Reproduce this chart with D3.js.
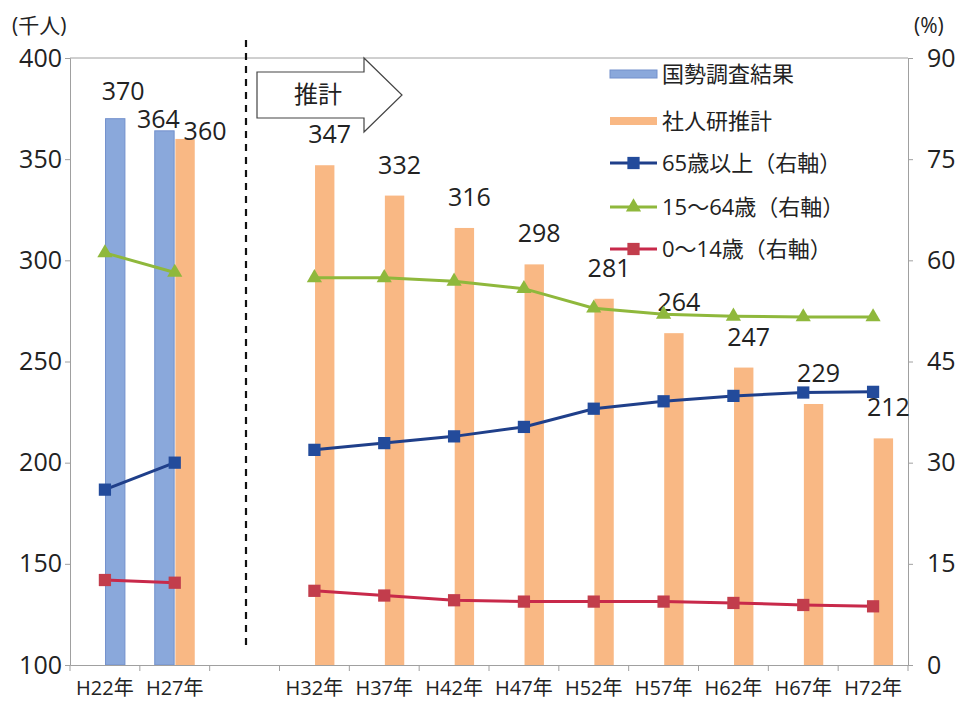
<!DOCTYPE html>
<html><head><meta charset="utf-8">
<script src="https://cdn.jsdelivr.net/npm/d3@7"></script>
<style>
body{margin:0;background:#fff;}
svg text{font-family:"Open Sans","Noto Sans CJK JP",sans-serif;fill:#222;}
</style></head>
<body><svg id="c" width="960" height="706"></svg>
<script>
const categories = ["H22年","H27年","","H32年","H37年","H42年","H47年","H52年","H57年","H62年","H67年","H72年"];
const census   = [370, 364, null, null, null, null, null, null, null, null, null, null];
const estimate = [null, 360, null, 347, 332, 316, 298, 281, 264, 247, 229, 212];
const age65    = [26.0, 30.0, null, 31.9, 32.9, 33.9, 35.3, 38.0, 39.1, 39.9, 40.4, 40.5];
const age15    = [61.1, 58.2, null, 57.4, 57.4, 56.9, 55.8, 52.9, 52.0, 51.7, 51.6, 51.6];
const age0     = [12.6, 12.2, null, 11.0, 10.3, 9.6, 9.4, 9.4, 9.4, 9.2, 8.9, 8.7];
const leftTicks = [100,150,200,250,300,350,400];
const rightTicks = [0,15,30,45,60,75,90];
const legendLabels = ["国勢調査結果","社人研推計","65歳以上（右軸）","15～64歳（右軸）","0～14歳（右軸）"];

const NUMF = '"Open Sans","Noto Sans CJK JP",sans-serif';
const CJKF = '"Noto Sans CJK JP",sans-serif';
const svg = d3.select("#c");
const L = 70, R = 908, T = 58, B = 665;
const x = d3.scaleBand().domain(d3.range(categories.length)).range([L, R]).padding(0);
const bw = x.bandwidth();
const sub = d3.scaleBand().domain(["census","estimate"]).range([bw/2-20, bw/2+20]).paddingInner(0.06);
const yL = d3.scaleLinear().domain([100,400]).range([B, T]);
const yR = d3.scaleLinear().domain([0,90]).range([B, T]);

const cBlue = "#8aa8db", cOrange = "#f9b884";
// bars
const bars = [];
census.forEach((v,i)=>{ if(v!=null) bars.push({i, v, s: estimate[i]!=null ? "census":"estimate", c:cBlue}); });
estimate.forEach((v,i)=>{ if(v!=null) bars.push({i, v, s:"estimate", c:cOrange}); });
svg.append("g").selectAll("rect").data(bars).join("rect")
  .attr("x", d=>x(d.i)+sub(d.s)).attr("width", sub.bandwidth())
  .attr("y", d=>yL(d.v)).attr("height", d=>B-yL(d.v))
  .attr("fill", d=>d.c).attr("stroke", d=>d.c===cBlue?"#7290cc":"none").attr("stroke-width",1);

// plot frame
svg.append("line").attr("x1",L).attr("x2",R).attr("y1",T).attr("y2",T).attr("stroke","#a0a0a0");
// axes
const gL = svg.append("g").attr("transform",`translate(${L},0)`)
  .call(d3.axisLeft(yL).tickValues(leftTicks).tickSize(5).tickPadding(3));
const gR = svg.append("g").attr("transform",`translate(${R},0)`)
  .call(d3.axisRight(yR).tickValues(rightTicks).tickSize(5).tickPadding(14));
const gB = svg.append("g").attr("transform",`translate(0,${B})`)
  .call(d3.axisBottom(x).tickFormat(i=>categories[i]).tickSize(0).tickPadding(16));
[gL,gR,gB].forEach(g=>{
  g.select(".domain").attr("stroke","#a0a0a0");
  g.selectAll(".tick line").attr("stroke","#a0a0a0");
  g.selectAll("text").attr("font-size",25).attr("font-family",NUMF).attr("fill","#222");
});
gB.selectAll("text").attr("font-size",20);
// bottom category boundary ticks
svg.append("g").selectAll("line").data(d3.range(categories.length+1)).join("line")
  .attr("x1",i=>L+i*bw).attr("x2",i=>L+i*bw).attr("y1",B).attr("y2",B+6).attr("stroke","#a0a0a0");

// unit labels
svg.append("text").attr("x",12).attr("y",33).attr("font-size",21).attr("font-family",CJKF).text("(千人)");
svg.append("text").attr("x",914).attr("y",33).attr("font-size",21).attr("font-family",CJKF).text("(%)");

// dashed separator
svg.append("line").attr("x1",246).attr("x2",246).attr("y1",40).attr("y2",648)
  .attr("stroke","#111").attr("stroke-width",2.2).attr("stroke-dasharray","7,6");

// arrow box
svg.append("path").attr("d","M257,72 L364,72 L364,58 L402,95 L364,132 L364,118 L257,118 Z")
  .attr("fill","#fff").attr("stroke","#444").attr("stroke-width",1.2);
svg.append("text").attr("x",318).attr("y",103).attr("text-anchor","middle").attr("font-size",24)
  .attr("font-family",CJKF).text("推計");

// bar labels
const lab = [];
census.forEach((v,i)=>{ if(v!=null) lab.push({i,v,s: estimate[i]!=null ? "census":"estimate",
  dx: estimate[i]!=null ? -6 : 8, dy: estimate[i]!=null ? 3 : 19}); });
estimate.forEach((v,i)=>{ if(v!=null) lab.push({i,v,s:"estimate",dx: i===1?20:5, dy: i===1?-1:22}); });
svg.append("g").selectAll("text").data(lab).join("text")
  .attr("x",d=>x(d.i)+sub(d.s)+sub.bandwidth()/2+d.dx)
  .attr("y",d=>yL(d.v)-d.dy)
  .attr("text-anchor","middle").attr("font-size",25).attr("font-family",NUMF).text(d=>d.v);

// lines
const seg = (arr)=>arr.map((v,i)=>({i,v}));
const lineGen = d3.line().defined(d=>d.v!=null).x(d=>x(d.i)+bw/2).y(d=>yR(d.v));
const series = [
  {data:age15, line:"#8fb83c", fill:"#8fb83c", shape:"tri"},
  {data:age65, line:"#1f3f8a", fill:"#234b9b", shape:"sq"},
  {data:age0, line:"#c8294a", fill:"#c23d4c", shape:"sq"}
];
const symOf = s=>d3.symbol().type(s.shape==="tri"?d3.symbolTriangle:d3.symbolSquare).size(s.shape==="tri"?100:150);
series.forEach(s=>{
  svg.append("path").datum(seg(s.data)).attr("d",lineGen).attr("fill","none")
    .attr("stroke",s.line).attr("stroke-width",3);
  const pts = seg(s.data).filter(d=>d.v!=null);
  svg.append("g").selectAll("path").data(pts).join("path")
    .attr("transform",d=>`translate(${x(d.i)+bw/2},${yR(d.v)})`).attr("d",symOf(s)).attr("fill",s.fill);
});

// legend
const lg = svg.append("g");
const ly = [74,121,163,207,249];
const lx0 = 610, lx1 = 657;
lg.append("rect").attr("x",lx0).attr("y",ly[0]-4).attr("width",lx1-lx0).attr("height",8).attr("fill",cBlue).attr("stroke","#7290cc");
lg.append("rect").attr("x",lx0).attr("y",ly[1]-4).attr("width",lx1-lx0).attr("height",8).attr("fill",cOrange);
[[series[1],2],[series[0],3],[series[2],4]].forEach(([s,k])=>{
  lg.append("line").attr("x1",lx0).attr("x2",lx1).attr("y1",ly[k]).attr("y2",ly[k]).attr("stroke",s.line).attr("stroke-width",3);
  lg.append("path").attr("transform",`translate(${(lx0+lx1)/2},${ly[k]})`).attr("d",symOf(s)).attr("fill",s.fill);
});
legendLabels.forEach((t,k)=>{
  lg.append("text").attr("x",lx1+5).attr("y",ly[k]+8).attr("font-size",22).attr("font-family",NUMF).text(t);
});
</script></body></html>
